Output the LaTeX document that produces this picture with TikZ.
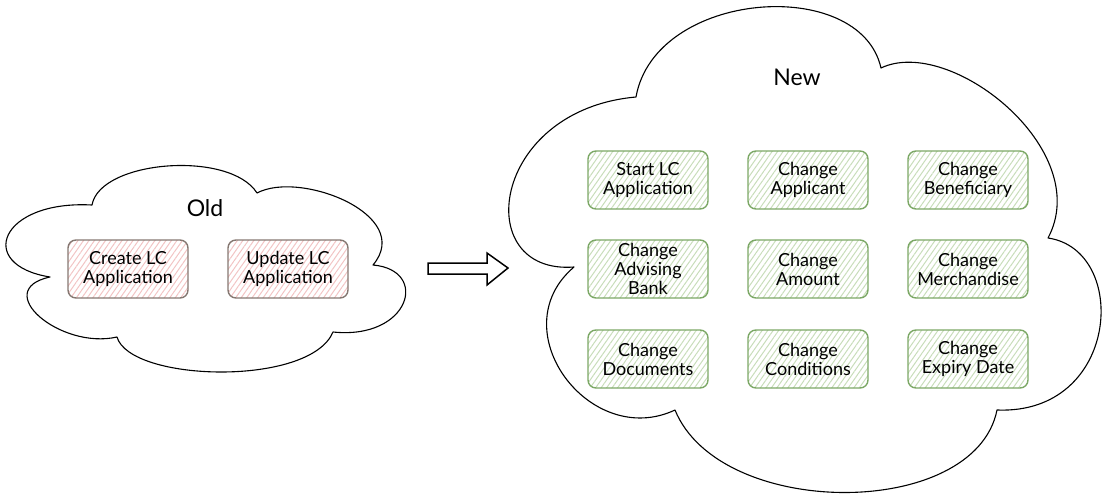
\documentclass[tikz,border=0pt]{standalone}
\usepackage{fontspec}
\setmainfont{Lato}
\usetikzlibrary{patterns.meta}

\definecolor{oldline}{HTML}{857872}
\definecolor{oldhatch}{HTML}{F2C4C4}
\definecolor{newline}{HTML}{7CA866}
\definecolor{newhatch}{HTML}{C8DDBA}

\tikzset{
  case/.style={draw, rounded corners=8pt, line width=1.4pt, minimum width=120pt,
    minimum height=58pt, inner sep=1pt, align=center, font=\fontsize{18}{19}\selectfont},
  oldcase/.style={case, draw=oldline,
    pattern={Lines[angle=55,distance=4.5pt,line width=1pt]}, pattern color=oldhatch},
  newcase/.style={case, draw=newline,
    pattern={Lines[angle=55,distance=4.5pt,line width=1pt]}, pattern color=newhatch},
  heading/.style={font=\fontsize{23}{26}\selectfont},
  cloudline/.style={line width=1.1pt, line join=round}
}

\begin{document}
\begin{tikzpicture}[x=1pt,y=-1pt]
    \useasboundingbox (0,0) rectangle (1109,501);

    % old cloud
    \coordinate (l1) at (50,277);
    \coordinate (l2) at (92,205);
    \coordinate (l3) at (257,193);
    \coordinate (l4) at (373,265);
    \coordinate (l5) at (333,332);
    \coordinate (l6) at (117,337);

    \draw[cloudline] (l1) .. controls (-25,265) and (0,200) .. (l2)
        .. controls (100,160) and (230,150) .. (l3)
        .. controls (300,170) and (415,215) .. (l4)
        .. controls (430,270) and (410,340) .. (l5)
        .. controls (310,387) and (130,382) .. (l6)
        .. controls (60,350) and (-10,290) .. (l1) -- cycle;

    % new cloud
    \coordinate (r1) at (636,97);
    \coordinate (r2) at (881,68);
    \coordinate (r3) at (1048,238);
    \coordinate (r4) at (997,410);
    \coordinate (r5) at (675,410);
    \coordinate (r6) at (574,267);

    \draw[cloudline] (r6) .. controls (470,275) and (490,110) .. (r1)
        .. controls (655,-10) and (860,-25) .. (r2)
        .. controls (950,35) and (1095,150) .. (r3)
        .. controls (1130,250) and (1120,415) .. (r4)
        .. controls (975,520) and (720,520) .. (r5)
        .. controls (590,450) and (500,330) .. (r6) -- cycle;

    % block arrow
    \draw[line width=1.5pt, line join=miter] (428,263) -- (487,263) -- (487,253)
        -- (508,268) -- (487,285) -- (487,274) -- (428,274) -- cycle;

    \node (old) [heading] at (205,208) {Old};
    \node (create) [oldcase] at (128,269) {Create LC\\Application};
    \node (update) [oldcase] at (288,269) {Update LC\\Application};

    \node (new) [heading] at (797,77) {New};
    \node (start) [newcase] at (648,180) {Start LC\\Application};
    \node (applicant) [newcase] at (808,180) {Change\\Applicant};
    \node (beneficiary) [newcase] at (968,180) {Change\\Beneficiary};
    \node (bank) [newcase] at (648,269) {Change\\Advising\\Bank};
    \node (amount) [newcase] at (808,269) {Change\\Amount};
    \node (goods) [newcase] at (968,269) {Change\\Merchandise};
    \node (docs) [newcase] at (648,359) {Change\\Documents};
    \node (conditions) [newcase] at (808,359) {Change\\Conditions};
    \node (expiry) [newcase] at (968,359) {Change\\Expiry Date};

\end{tikzpicture}
\end{document}
